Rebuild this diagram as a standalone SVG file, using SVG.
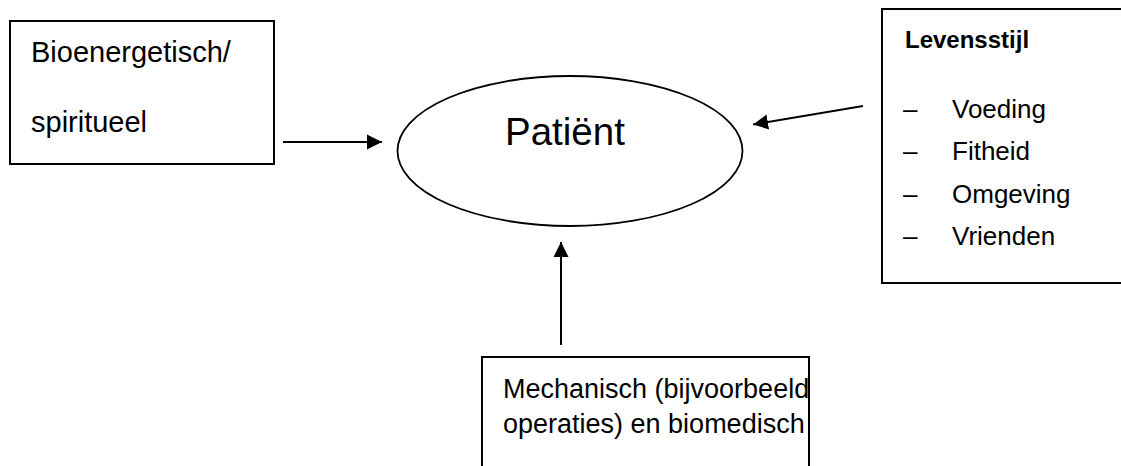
<svg xmlns="http://www.w3.org/2000/svg" width="1121" height="466" viewBox="0 0 1121 466">
<style>
.box{fill:#fff;stroke:#000;stroke-width:2}
.t{font-family:"Liberation Sans",Arial,sans-serif;fill:#000}
.c{stroke:#000;stroke-width:2;fill:none}
</style>
<defs>
<marker id="ah" markerWidth="16" markerHeight="16" refX="15" refY="8" orient="auto" markerUnits="userSpaceOnUse">
<path d="M0,0.5 L15,8 L0,15.5 Z" fill="#000"/>
</marker>
</defs>
<rect width="1121" height="466" fill="#fff"/>
<g id="bioenergetisch">
<rect class="box" x="10" y="21" width="264" height="143"/>
<text class="t" x="31" y="62" font-size="29">Bioenergetisch/</text>
<text class="t" x="31" y="132" font-size="29">spiritueel</text>
</g>
<g id="patient">
<ellipse cx="570" cy="151" rx="172.5" ry="75" fill="#fff" stroke="#000" stroke-width="1.8"/>
<text class="t" x="505" y="145" font-size="38.5">Patiënt</text>
</g>
<g id="levensstijl">
<rect class="box" x="882" y="9" width="250" height="274"/>
<text class="t" x="905" y="48" font-size="24" font-weight="bold">Levensstijl</text>
<text class="t" x="903" y="117.5" font-size="26">–</text>
<text class="t" x="952" y="117.5" font-size="26">Voeding</text>
<text class="t" x="903" y="160" font-size="26">–</text>
<text class="t" x="952" y="160" font-size="26">Fitheid</text>
<text class="t" x="903" y="202.5" font-size="26">–</text>
<text class="t" x="952" y="202.5" font-size="26">Omgeving</text>
<text class="t" x="903" y="245" font-size="26">–</text>
<text class="t" x="952" y="245" font-size="26">Vrienden</text>
</g>
<g id="mechanisch">
<rect class="box" x="482" y="357" width="327" height="130"/>
<text class="t" x="503" y="398" font-size="27">Mechanisch (bijvoorbeeld</text>
<text class="t" x="503" y="433" font-size="27">operaties) en biomedisch</text>
</g>
<g id="connectors">
<line class="c" x1="283" y1="142" x2="382" y2="142" marker-end="url(#ah)"/>
<line class="c" x1="863" y1="106" x2="753" y2="124.5" marker-end="url(#ah)"/>
<line class="c" x1="561" y1="345" x2="561" y2="242" marker-end="url(#ah)"/>
</g>
</svg>
